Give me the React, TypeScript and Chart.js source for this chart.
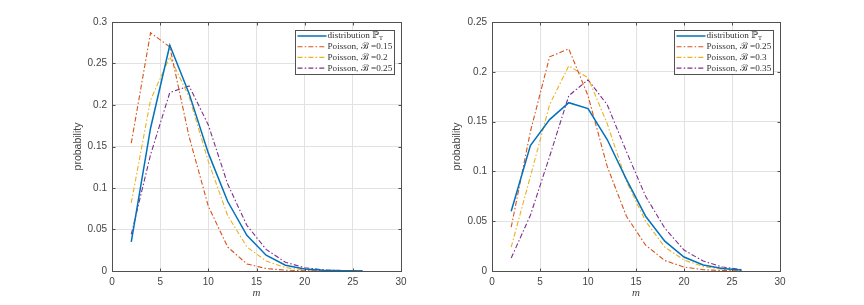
import React, { useEffect, useRef } from "react";
import { Chart, registerables } from "chart.js";

Chart.register(...registerables);

// ---- data ----
const M = [2, 4, 6, 8, 10, 12, 14, 16, 18, 20, 22, 24, 26];

// left panel
const DIST_LEFT = [0.035, 0.172, 0.272, 0.214, 0.142, 0.084, 0.043, 0.019, 0.007, 0.0025, 0.001, 0.0003, 0.0001];
const POIS_015 = [0.154, 0.287, 0.27, 0.162, 0.078, 0.029, 0.0085, 0.003, 0.001, 0.0003, 0.0001, 0, 0];
const POIS_020 = [0.082, 0.206, 0.258, 0.21, 0.132, 0.067, 0.029, 0.012, 0.004, 0.0013, 0.0004, 0.0001, 0];
const POIS_025 = [0.044, 0.14, 0.215, 0.223, 0.176, 0.105, 0.055, 0.026, 0.0105, 0.004, 0.0013, 0.0004, 0.0001];

// right panel
const DIST_RIGHT = [0.06, 0.126, 0.152, 0.169, 0.163, 0.132, 0.092, 0.055, 0.03, 0.014, 0.006, 0.0025, 0.001];
const POIS_030 = [0.024, 0.095, 0.167, 0.206, 0.194, 0.148, 0.09, 0.05, 0.024, 0.011, 0.0045, 0.0017, 0.0005];
const POIS_035 = [0.013, 0.056, 0.115, 0.176, 0.192, 0.167, 0.12, 0.075, 0.043, 0.021, 0.01, 0.004, 0.0015];

const LABELS_LEFT = ["distribution ℙ_T", "Poisson, ℬ =0.15", "Poisson, ℬ =0.2", "Poisson, ℬ =0.25"];
const LABELS_RIGHT = ["distribution ℙ_T", "Poisson, ℬ =0.25", "Poisson, ℬ =0.3", "Poisson, ℬ =0.35"];

const X_TICKS = [0, 5, 10, 15, 20, 25, 30];
const Y_MAX_LEFT = 0.3;
const Y_MAX_RIGHT = 0.25;

const COLORS = ["#0072BD", "#D95319", "#EDB120", "#7E2F8E"];
const DASH = [5, 2.2, 1.5, 2.2];

const AXIS_COLOR = "#505050";
const TEXT_COLOR = "#444444";

const boxPlugin = {
  id: "matlabBox",
  afterDatasetsDraw(chart: any) {
    const { ctx, chartArea: ca, scales } = chart;
    const l = Math.round(ca.left) + 0.5;
    const r = Math.round(ca.right) + 0.5;
    const t = Math.round(ca.top) + 0.5;
    const b = Math.round(ca.bottom) + 0.5;
    ctx.save();
    ctx.strokeStyle = AXIS_COLOR;
    ctx.lineWidth = 1;
    ctx.setLineDash([]);
    ctx.strokeRect(l, t, r - l, b - t);
    const tl = 3;
    ctx.beginPath();
    scales.x.ticks.forEach((tk: any) => {
      const px = Math.round(scales.x.getPixelForValue(tk.value)) + 0.5;
      ctx.moveTo(px, b);
      ctx.lineTo(px, b - tl);
      ctx.moveTo(px, t);
      ctx.lineTo(px, t + tl);
    });
    scales.y.ticks.forEach((tk: any) => {
      const py = Math.round(scales.y.getPixelForValue(tk.value)) + 0.5;
      ctx.moveTo(l, py);
      ctx.lineTo(l + tl, py);
      ctx.moveTo(r, py);
      ctx.lineTo(r - tl, py);
    });
    ctx.stroke();
    ctx.restore();
  },
};

const legendPlugin = {
  id: "matlabLegend",
  afterDraw(chart: any) {
    const { ctx, chartArea: ca } = chart;
    const labels: string[] = chart.options.plugins.matlabLegend.labels;
    const bw = 99;
    const bh = 44;
    const bx = Math.round(ca.right - 7 - bw) + 0.5;
    const by = Math.round(ca.top + 8) + 0.5;
    ctx.save();
    ctx.fillStyle = "#ffffff";
    ctx.fillRect(bx, by, bw, bh);
    ctx.strokeStyle = AXIS_COLOR;
    ctx.lineWidth = 1;
    ctx.setLineDash([]);
    ctx.strokeRect(bx, by, bw, bh);
    chart.data.datasets.forEach((ds: any, i: number) => {
      const y = by + 5.5 + i * 10.7;
      ctx.beginPath();
      ctx.strokeStyle = ds.borderColor;
      ctx.lineWidth = ds.borderWidth;
      ctx.setLineDash(ds.borderDash || []);
      ctx.moveTo(bx + 2, y);
      ctx.lineTo(bx + 31, y);
      ctx.stroke();
      ctx.setLineDash([]);
      const label = labels[i];
      const parts = label.split("_");
      ctx.fillStyle = "#333333";
      ctx.textBaseline = "middle";
      ctx.textAlign = "left";
      ctx.font = '9.2px "Liberation Serif", "DejaVu Serif", serif';
      ctx.fillText(parts[0], bx + 32, y);
      if (parts[1]) {
        const w = ctx.measureText(parts[0]).width;
        ctx.font = '6.5px "Liberation Serif", "DejaVu Serif", serif';
        ctx.fillText(parts[1], bx + 32 + w, y + 2.5);
      }
    });
    ctx.restore();
  },
};

function buildConfig(series: number[][], labels: string[], yMax: number, padLeft: number, yWidth: number, padRight: number) {
  return {
    type: "line" as const,
    data: {
      labels: M,
      datasets: series.map((s, i) => ({
        label: labels[i],
        data: M.map((m, j) => ({ x: m, y: s[j] })),
        borderColor: COLORS[i],
        backgroundColor: COLORS[i],
        borderWidth: i === 0 ? 1.5 : 1.1,
        borderDash: i === 0 ? [] : DASH,
        pointRadius: 0,
        tension: 0,
        fill: false,
      })),
    },
    options: {
      animation: false,
      responsive: false,
      maintainAspectRatio: false,
      layout: { padding: { left: padLeft, top: 22, right: padRight, bottom: 0 } },
      plugins: {
        legend: { display: false },
        tooltip: { enabled: false },
        matlabLegend: { labels },
      },
      scales: {
        x: {
          type: "linear",
          min: 0,
          max: 30,
          afterBuildTicks: (scale: any) => {
            scale.ticks = X_TICKS.map((v) => ({ value: v }));
          },
          afterFit: (scale: any) => {
            scale.height = 34;
          },
          grid: { color: "#e2e2e2", drawTicks: false, lineWidth: 1 },
          border: { display: false },
          ticks: {
            padding: 5,
            color: TEXT_COLOR,
            font: { family: '"Liberation Sans", Arial, sans-serif', size: 10 },
            maxRotation: 0,
            autoSkip: false,
          },
          title: {
            display: true,
            text: "m",
            color: TEXT_COLOR,
            font: { family: '"Liberation Serif", "DejaVu Serif", serif', size: 11, style: "italic" },
            padding: { top: 0, bottom: 5 },
          },
        },
        y: {
          type: "linear",
          min: 0,
          max: yMax,
          afterBuildTicks: (scale: any) => {
            const arr = [];
            const n = Math.round(yMax / 0.05);
            for (let k = 0; k <= n; k++) arr.push({ value: +(k * 0.05).toFixed(2) });
            scale.ticks = arr;
          },
          afterFit: (scale: any) => {
            scale.width = yWidth;
          },
          grid: { color: "#e2e2e2", drawTicks: false, lineWidth: 1 },
          border: { display: false },
          ticks: {
            padding: 5,
            color: TEXT_COLOR,
            font: { family: '"Liberation Sans", Arial, sans-serif', size: 10 },
            callback: (v: number) => String(+Number(v).toFixed(2)),
          },
          title: {
            display: true,
            text: "probability",
            color: TEXT_COLOR,
            font: { family: '"Liberation Sans", Arial, sans-serif', size: 10.5 },
            padding: { top: 0, bottom: 0 },
          },
        },
      },
    },
    plugins: [boxPlugin, legendPlugin],
  };
}

function Panel(props: { series: number[][]; labels: string[]; yMax: number; left: number; padLeft: number; yWidth: number; padRight: number }) {
  const ref = useRef<HTMLCanvasElement | null>(null);
  useEffect(() => {
    if (!ref.current) return;
    const chart = new Chart(ref.current, buildConfig(props.series, props.labels, props.yMax, props.padLeft, props.yWidth, props.padRight) as any);
    return () => chart.destroy();
  }, []);
  return (
    <canvas
      ref={ref}
      width={432}
      height={305}
      style={{ position: "absolute", left: props.left, top: 0, width: 432, height: 305 }}
    />
  );
}

export default function App() {
  return (
    <div style={{ position: "absolute", left: 0, top: 0, width: 864, height: 305, background: "#ffffff", overflow: "hidden" }}>
      <Panel
        series={[DIST_LEFT, POIS_015, POIS_020, POIS_025]}
        labels={LABELS_LEFT}
        yMax={Y_MAX_LEFT}
        left={0}
        padLeft={72}
        yWidth={40}
        padRight={31}
      />
      <Panel
        series={[DIST_RIGHT, POIS_025, POIS_030, POIS_035]}
        labels={LABELS_RIGHT}
        yMax={Y_MAX_RIGHT}
        left={432}
        padLeft={19}
        yWidth={41}
        padRight={84}
      />
    </div>
  );
}
